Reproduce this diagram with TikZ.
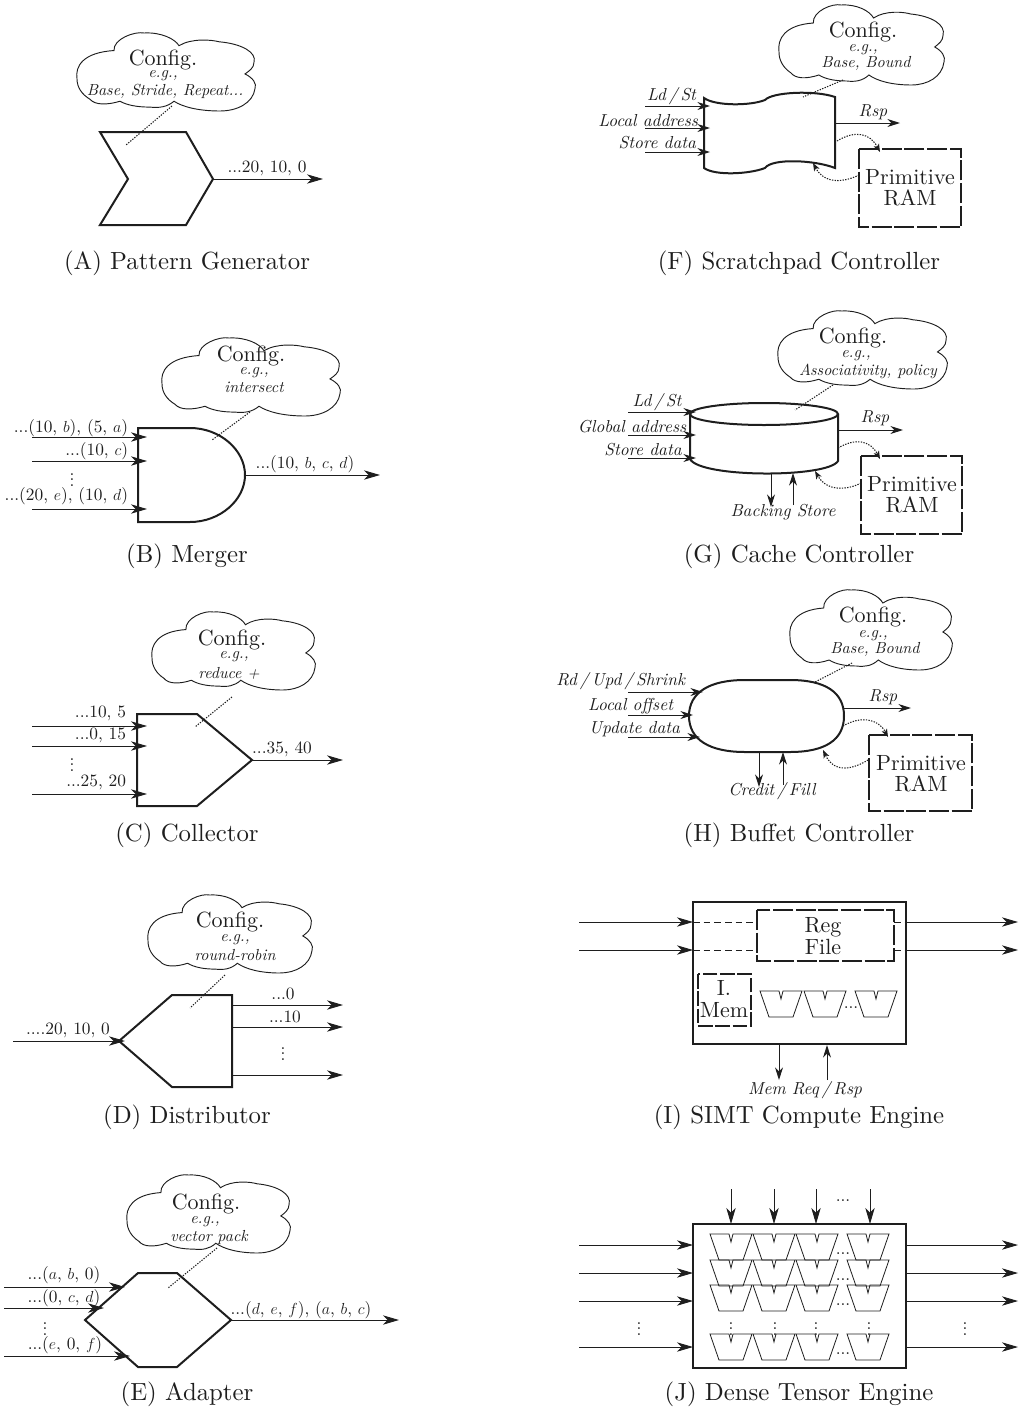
\documentclass[tikz,border=0pt]{standalone}
\usepackage{fontspec}
\setmainfont{lmroman10-regular.otf}[ItalicFont=lmroman10-italic.otf]
\usetikzlibrary{arrows.meta}
\definecolor{ink}{HTML}{1E1E1E}
\tikzset{
  every node/.style={inner sep=0pt,outer sep=0pt,text=ink,align=center},
  captxt/.style={font=\fontsize{18.6}{20}\selectfont},
  cfg/.style={font=\fontsize{16.5}{17}\selectfont},
  egs/.style={font=\fontsize{12}{12}\selectfont\itshape},
  lab/.style={font=\fontsize{13}{14}\selectfont},
  ital/.style={font=\fontsize{13}{14}\selectfont\itshape},
  ram/.style={font=\fontsize{16.5}{16}\selectfont},
  thick shape/.style={draw=ink,line width=1.5pt,line join=miter},
  cloudline/.style={draw=ink,line width=.7pt},
  arr/.style={draw=ink,line width=.7pt,-{Stealth[length=12pt,width=7pt,inset=3.5pt]}},
  thinarr/.style={draw=ink,line width=.7pt,-{Stealth[length=9.5pt,width=6pt,inset=3pt]}},
  dotln/.style={draw=ink,line width=.8pt,dash pattern=on 1pt off 1pt},
  dotarr/.style={dotln,-{Stealth[length=6pt,width=4.5pt,inset=1.5pt]}},
  dashbox/.style={draw=ink,line width=1.5pt,dash pattern=on 15pt off 2pt},
  dashline/.style={draw=ink,line width=.6pt,dash pattern=on 5pt off 3pt},
  peline/.style={draw=ink,line width=.6pt}
}
\newcommand{\conn}[4]{\coordinate (#2s) at (#3);\coordinate (#2e) at (#4);\draw[#1] (#2s) -- (#2e);}
\newcommand{\cloudS}[5]{%
  \begin{scope}[shift={(#2,#3)},xscale=#4/178,yscale=#5/80]
  \draw[cloudline] (0,47) .. controls (-2,34) and (6,20) .. (37,18)
    .. controls (36,6) and (58,-2) .. (67,0) .. controls (84,-1) and (98,6) .. (102,13)
    .. controls (115,5) and (135,7) .. (142,9) .. controls (165,11) and (180,20) .. (177,30)
    .. controls (177,36) and (172,39) .. (168,42) .. controls (176,46) and (180,52) .. (178,57)
    .. controls (176,72) and (160,80) .. (143,80) .. controls (122,80) and (106,76) .. (97,70)
    .. controls (90,76) and (82,77) .. (73,76) .. controls (60,76) and (50,74) .. (43,70)
    .. controls (30,74) and (18,74) .. (13,68) .. controls (5,63) and (0,56) .. (0,47) -- cycle;
  \end{scope}}
\newcommand{\pe}[2]{%
  \draw[peline,line join=miter] ({#1-21},#2) -- ({#1-2},#2) -- (#1,{#2+8}) -- ({#1+2},#2) -- ({#1+21},#2)
   -- ({#1+12},{#2+26}) -- ({#1-12},{#2+26}) -- cycle;}
\begin{document}
\begin{tikzpicture}[x=.75pt,y=-.75pt]
\useasboundingbox (0,0) rectangle (1027,1410);
% ---------- A
\cloudS{clA}{77}{33}{178}{78}
\node[cfg] (cfgA) at (163,60) {Config.};
\node[egs] (egA) at (163,76) {e.g.,};
\node[egs] (exA) at (165,91) {Base, Stride, Repeat...};
\draw[thick shape] (100,132) -- (186,132) -- (213,179) -- (186,225) -- (100,225) -- (128,179) -- cycle;
\conn{dotln}{dA}{172,106}{126,145}
\conn{arr}{oA}{213,179}{323,179}
\node[lab] (tA) at (267,168) {...20, 10, 0};
\node[captxt] (capA) at (187,263) {(A) Pattern Generator};
% ---------- B
\cloudS{clB}{162}{338}{178}{78}
\node[cfg] (cfgB) at (251,356) {Config.};
\node[egs] (egB) at (254,373) {e.g.,};
\node[egs] (exB) at (254,387) {intersect};
\draw[thick shape] (138,428) -- (190,428) .. controls (220,428) and (245,450) .. (245,475) .. controls (245,500) and (220,522) .. (190,522) -- (138,522) -- cycle;
\conn{dotln}{dB}{250,412}{212,440}
\conn{arr}{iB1}{32,437}{147,437}
\conn{arr}{iB2}{32,461}{147,461}
\conn{arr}{iB3}{32,509}{147,509}
\conn{arr}{oB}{245,475}{380,475}
\node[lab,anchor=east] (tB1) at (128,428) {...(10, $b$), (5, $a$)};
\node[lab,anchor=east] (tB2) at (128,451) {...(10, $c$)};
\node[lab] (dtB) at (72,476) {$\vdots$};
\node[lab,anchor=east] (tB3) at (128,496) {...(20, $e$), (10, $d$)};
\node[lab] (tB4) at (305,464) {...(10, $b$, $c$, $d$)};
\node[captxt] (capB) at (187,556) {(B) Merger};
% ---------- C
\cloudS{clC}{152}{612}{163}{78}
\node[cfg] (cfgC) at (232,640) {Config.};
\node[egs] (egC) at (234,657) {e.g.,};
\node[egs] (exC) at (229,673) {reduce +};
\draw[thick shape] (137,714) -- (197,714) -- (252,760) -- (197,806) -- (137,806) -- cycle;
\conn{dotln}{dC}{232,697}{195,727}
\conn{arr}{iC1}{32,726}{147,726}
\conn{arr}{iC2}{32,746}{147,746}
\conn{arr}{iC3}{32,794}{147,794}
\conn{arr}{oC}{252,760}{343,760}
\node[lab,anchor=east] (tC1) at (126,713) {...10, 5};
\node[lab,anchor=east] (tC2) at (126,735) {...0, 15};
\node[lab] (dtC) at (72,761) {$\vdots$};
\node[lab,anchor=east] (tC3) at (126,782) {...25, 20};
\node[lab] (tC4) at (282,749) {...35, 40};
\node[captxt] (capC) at (187,835) {(C) Collector};
% ---------- D
\cloudS{clD}{148}{895}{164}{78}
\node[cfg] (cfgD) at (230,922) {Config.};
\node[egs] (egD) at (235,940) {e.g.,};
\node[egs] (exD) at (235,955) {round-robin};
\draw[thick shape] (119,1041) -- (172,995) -- (232,995) -- (232,1087) -- (172,1087) -- cycle;
\conn{dotln}{dD}{225,975}{190,1008}
\conn{arr}{iD}{13,1041}{125,1041}
\conn{arr}{oD1}{232,1005}{343,1005}
\conn{arr}{oD2}{232,1027}{343,1027}
\conn{arr}{oD3}{232,1075}{343,1075}
\node[lab] (tD0) at (68,1030) {....20, 10, 0};
\node[lab] (tD1) at (283,994) {...0};
\node[lab] (tD2) at (285,1017) {...10};
\node[lab] (dtD) at (283,1050) {$\vdots$};
\node[captxt] (capD) at (187,1117) {(D) Distributor};
% ---------- E
\cloudS{clE}{127}{1175}{163}{78}
\node[cfg] (cfgE) at (206,1204) {Config.};
\node[egs] (egE) at (205,1222) {e.g.,};
\node[egs] (exE) at (209,1237) {vector pack};
\draw[thick shape] (85,1320) -- (138,1273) -- (177,1273) -- (231,1320) -- (177,1367) -- (138,1367) -- cycle;
\conn{dotln}{dE}{217,1248}{168,1288}
\conn{arr}{iE1}{4,1287}{125,1287}
\conn{arr}{iE2}{4,1308}{104,1308}
\conn{arr}{iE3}{4,1356}{130,1356}
\conn{arr}{oE}{231,1320}{399,1320}
\node[lab] (tE1) at (64,1275) {...($a$, $b$, 0)};
\node[lab] (tE2) at (64,1298) {...(0, $c$, $d$)};
\node[lab] (dtE) at (45,1325) {$\vdots$};
\node[lab] (tE3) at (65,1345) {...($e$, 0, $f$)};
\node[lab] (tE4) at (301,1310) {...($d$, $e$, $f$), ($a$, $b$, $c$)};
\node[captxt] (capE) at (187,1394) {(E) Adapter};
% ---------- F
\cloudS{clF}{779}{5}{165}{80}
\node[cfg] (cfgF) at (863,32) {Config.};
\node[egs] (egF) at (863,50) {e.g.,};
\node[egs] (exF) at (866,63) {Base, Bound};
\draw[thick shape] (704,98) .. controls (715,106) and (750,106) .. (765,100) .. controls (772,92) and (815,90) .. (835,97)
  -- (835,168) .. controls (815,160) and (772,158) .. (765,168) .. controls (750,174) and (715,176) .. (704,168) -- cycle;
\conn{dotln}{dF}{843,80}{803,97}
\conn{thinarr}{iF1}{645,106}{710,106}
\conn{thinarr}{iF2}{645,128}{710,128}
\conn{thinarr}{iF3}{645,152}{710,152}
\conn{thinarr}{oF}{835,123}{900,123}
\node[ital,anchor=east] (tF1) at (696,96) {Ld\,/\,St};
\node[ital,anchor=east] (tF2) at (698,121) {Local address};
\node[ital,anchor=east] (tF3) at (696,143) {Store data};
\node[ital] (tF4) at (873,112) {Rsp};
\draw[dashbox] (859,149) rectangle (961,227);
\node[ram] (rF) at (910,188) {Primitive\\RAM};
\coordinate (fA) at (837,141); \coordinate (fB) at (880,152); \coordinate (fC) at (859,175); \coordinate (fD) at (813,163);
\draw[dotarr] (fA) .. controls (855,130) and (870,133) .. (fB);
\draw[dotarr] (fC) .. controls (845,182) and (825,185) .. (fD);
\node[captxt] (capF) at (799,263) {(F) Scratchpad Controller};
% ---------- G
\cloudS{clG}{778}{311}{169}{78}
\node[cfg] (cfgG) at (853,338) {Config.};
\node[egs] (egG) at (856,356) {e.g.,};
\node[egs] (exG) at (868,371) {Associativity, policy};
\draw[thick shape] (690,414) arc[start angle=180,end angle=-180,x radius=74,y radius=11];
\draw[thick shape] (690,414) -- (690,459) .. controls (700,478) and (828,478) .. (838,461) -- (838,414);
\conn{dotln}{dG}{833,385}{795,410}
\conn{thinarr}{iG1}{628,412}{696,412}
\conn{thinarr}{iG2}{628,435}{696,435}
\conn{thinarr}{iG3}{628,458}{696,458}
\conn{thinarr}{oG}{838,430}{903,430}
\conn{thinarr}{bG1}{771,473}{771,507}
\conn{thinarr}{bG2}{793,505}{793,473}
\node[ital] (tG1) at (657,402) {Ld\,/\,St};
\node[ital] (tG2) at (632,427) {Global address};
\node[ital] (tG3) at (643,450) {Store data};
\node[ital] (tG4) at (875,418) {Rsp};
\node[ital] (tG5) at (783,512) {Backing Store};
\draw[dashbox] (861,456) rectangle (962,534);
\node[ram] (rG) at (912,495) {Primitive\\RAM};
\coordinate (gA) at (838,448); \coordinate (gB) at (880,459); \coordinate (gC) at (861,483); \coordinate (gD) at (815,471);
\draw[dotarr] (gA) .. controls (855,438) and (870,440) .. (gB);
\draw[dotarr] (gC) .. controls (848,490) and (827,492) .. (gD);
\node[captxt] (capG) at (799,556) {(G) Cache Controller};
% ---------- H
\cloudS{clH}{790}{590}{162}{80}
\node[cfg] (cfgH) at (873,617) {Config.};
\node[egs] (egH) at (873,636) {e.g.,};
\node[egs] (exH) at (875,649) {Base, Bound};
\draw[thick shape] (689,716) .. controls (689,692) and (710,680) .. (745,680) -- (790,680) .. controls (825,680) and (844,692) .. (844,716)
  .. controls (844,740) and (825,752) .. (790,752) -- (745,752) .. controls (710,752) and (689,740) .. (689,716) -- cycle;
\conn{dotln}{dH}{852,663}{815,682}
\conn{thinarr}{iH1}{628,692}{703,692}
\conn{thinarr}{iH2}{628,715}{693,715}
\conn{thinarr}{iH3}{628,737}{700,737}
\conn{thinarr}{oH}{844,708}{911,708}
\conn{thinarr}{bH1}{759,752}{759,787}
\conn{thinarr}{bH2}{783,785}{783,752}
\node[ital,anchor=east] (tH1) at (685,681) {Rd\,/\,Upd\,/\,Shrink};
\node[ital,anchor=east] (tH2) at (673,706) {Local offset};
\node[ital,anchor=east] (tH3) at (680,729) {Update data};
\node[ital] (tH4) at (883,697) {Rsp};
\node[ital] (tH5) at (772,791) {Credit\,/\,Fill};
\draw[dashbox] (869,735) rectangle (972,811);
\node[ram] (rH) at (921,774) {Primitive\\RAM};
\coordinate (hA) at (843,726); \coordinate (hB) at (888,737); \coordinate (hC) at (868,760); \coordinate (hD) at (823,750);
\draw[dotarr] (hA) .. controls (860,716) and (878,718) .. (hB);
\draw[dotarr] (hC) .. controls (855,768) and (835,775) .. (hD);
\node[captxt] (capH) at (799,835) {(H) Buffet Controller};
% ---------- I
\draw[thick shape] (693,902) rectangle (906,1044);
\draw[dashbox] (757,910) rectangle (894,961);
\node[ram] (rI) at (823,936) {Reg\\File};
\draw[dashbox,dash pattern=on 11pt off 2pt] (698,974) rectangle (751,1026);
\node[ram] (mI) at (724,999) {I.\\Mem};
\conn{arr}{iI1}{579,922}{693,922}
\conn{arr}{iI2}{579,950}{693,950}
\conn{dashline}{aI1}{693,922}{757,922}
\conn{dashline}{aI2}{693,950}{757,950}
\conn{dashline}{bI1}{894,922}{906,922}
\conn{dashline}{bI2}{894,950}{906,950}
\conn{arr}{oI1}{906,922}{1018,922}
\conn{arr}{oI2}{906,950}{1018,950}
\conn{thinarr}{dI}{779,1045}{779,1080}
\conn{thinarr}{uI}{827,1080}{827,1045}
\pe{781}{991}\pe{825}{991}\pe{876}{991}
\node[lab] (pI) at (851,1008) {...};
\node[ital] (tI) at (805,1090) {Mem Req\,/\,Rsp};
\node[captxt] (capI) at (799,1117) {(I) SIMT Compute Engine};
% ---------- J
\draw[thick shape] (693,1224) rectangle (906,1368);
\foreach \yy/\rr in {1234/a,1260/b,1285/c,1334/d}{
  \pe{731}{\yy}\pe{774}{\yy}\pe{817}{\yy}\pe{868}{\yy}
  \node[lab] (pJ\rr) at (843,{\yy+20}) {...};
}
\foreach \xx/\nn in {731/a,775/b,816/c,869/d}{\node[lab] (vJ\nn) at (\xx,1325) {$\vdots$};}
\foreach \xx/\nn in {731/a,774/b,816/c,870/d}{\conn{arr}{tJ\nn}{\xx,1189}{\xx,1224}}
\foreach \yy/\nn in {1245/a,1273/b,1301/c,1347/d}{
  \conn{arr}{iJ\nn}{579,\yy}{693,\yy}
  \conn{arr}{oJ\nn}{906,\yy}{1018,\yy}
}
\node[lab] (pJ) at (843,1201) {...};
\node[lab] (dJ1) at (639,1325) {$\vdots$};
\node[lab] (dJ2) at (965,1325) {$\vdots$};
\node[captxt] (capJ) at (799,1394) {(J) Dense Tensor Engine};
\end{tikzpicture}
\end{document}
